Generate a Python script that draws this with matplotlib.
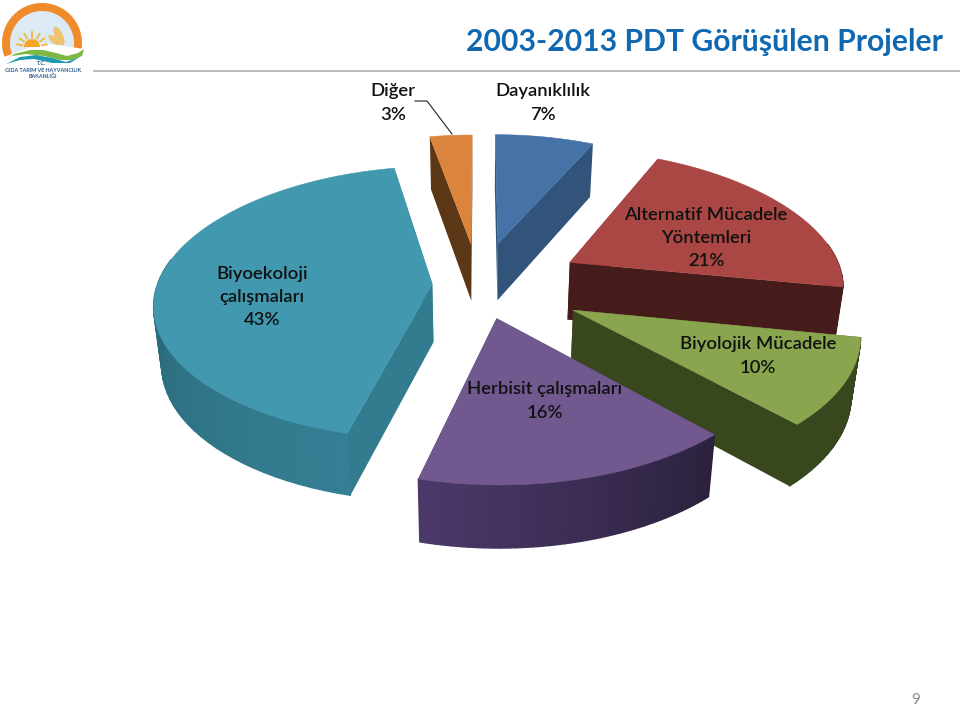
import numpy as np
import matplotlib
matplotlib.use("Agg")
import matplotlib.pyplot as plt
from matplotlib.patches import Wedge, Ellipse

plt.rcParams['font.family'] = ['Lato', 'DejaVu Sans']

# ---- data -------------------------------------------------------------
title = "2003-2013 PDT Görüşülen Projeler"
names = ["Dayanıklılık", "Alternatif Mücadele\nYöntemleri", "Biyolojik Mücadele",
         "Herbisit çalışmaları", "Biyoekoloji\nçalışmaları", "Diğer"]
values = [7, 21, 10, 16, 43, 3]
explode = [0.33, 0.38, 0.38, 0.25, 0.17, 0.32]
top_colors = ["#4572A7", "#AA4643", "#89A54E", "#71588F", "#4198AF", "#DB843D"]
wall_colors = ["#32537A", "#451C1A", "#39471F", "#3A2C52", "#337C90", "#5B3716"]
draw_order = [4, 5, 0, 1, 2, 3]
label_xy = [(543, 103), (706, 238), (758, 356), (545, 401), (262, 297), (393, 103)]

# ---- projection of the tilted pie onto the page -------------------------
CX, CY, RX, RY, DEPTH, SHRINK = 479, 285, 275, 134, 58, 0.975


def project(X, Y, bottom=False):
    wx = 1 + 0.146 * Y + 0.015 * Y ** 2
    wy = 1 + 0.135 * Y
    sx = CX + RX * X / wx
    sy = CY - RY * Y / wy
    if bottom:
        sx = CX + (sx - CX) * SHRINK
        sy = sy + DEPTH * (1.0 - 0.07 * Y)
    return sx, sy


def shade(hex_color, factor):
    rgb = np.array(matplotlib.colors.to_rgb(hex_color))
    return tuple(np.clip(rgb * factor, 0, 1))


fig = plt.figure(figsize=(9.6, 7.07), dpi=100)
ax = fig.add_axes([0, 0, 1, 1])
ax.set_xlim(0, 960)
ax.set_ylim(707, 0)
ax.axis("off")

fractions = np.array(values) / np.sum(values)
edges = np.concatenate([[0], np.cumsum(fractions)]) * 2 * np.pi

for order, i in enumerate(draw_order):
    z = 2 + order * 0.1
    a0, a1 = edges[i], edges[i + 1]
    mid = (a0 + a1) / 2
    ox, oy = explode[i] * np.sin(mid), explode[i] * np.cos(mid)
    angs = np.linspace(a0, a1, 60)
    Xs, Ys = ox + np.sin(angs), oy + np.cos(angs)
    tx, ty = project(Xs, Ys)
    bx, by = project(Xs, Ys, True)
    ax0, ay0 = project(ox, oy)
    bx0, by0 = project(ox, oy, True)
    # cut faces
    for j in (0, -1):
        ax.fill([ax0, tx[j], bx[j], bx0], [ay0, ty[j], by[j], by0],
                color=wall_colors[i], lw=0, zorder=z)
    # outer wall (front-facing part only), shaded strip by strip
    for k in range(len(angs) - 1):
        if np.cos(angs[k]) > 0.15:
            continue
        f = 1.0
        if i == 4:
            f = max(1.06 - 0.22 * (angs[k] - np.pi) / (0.5 * np.pi), 0.82)
        if i == 3:
            f = np.clip(1.3 - 0.55 * (np.pi + 0.25 - angs[k]), 0.7, 1.35)
        ax.fill([tx[k], tx[k + 1], bx[k + 1], bx[k]], [ty[k], ty[k + 1], by[k + 1], by[k]],
                color=shade(wall_colors[i], f), lw=1.0, zorder=z)
    ax.fill(np.r_[ax0, tx], np.r_[ay0, ty], color=top_colors[i], lw=0.4, zorder=z)

# ---- labels -------------------------------------------------------------
for i, (lx, ly) in enumerate(label_xy):
    ax.text(lx, ly, f"{names[i]}\n{values[i]}%", ha="center", va="center",
            fontsize=13.3, color="#111111", linespacing=1.55, zorder=5,
            fontweight="semibold")
ax.plot([415, 427, 452], [101, 101, 134], color="#222222", lw=0.8, zorder=5)

# ---- slide header -------------------------------------------------------
ax.text(943, 42, title, ha="right", va="center", fontsize=21.7, fontweight="bold",
        color="#1068B0")
ax.plot([94, 960], [71, 71], color="#B5B5B5", lw=1.3)
ax.text(916, 700, "9", ha="center", va="center", fontsize=11, color="#8A8A8A")

# logo
ax.add_patch(Wedge((42, 43), 33, 160, 368, fc="#DCEAF5", ec="none"))
ax.add_patch(Wedge((42, 43), 40, 160, 368, width=8, fc="#EF8B2A", ec="none"))
ax.add_patch(Wedge((32, 47), 8, 180, 360, fc="#F6A623", ec="none"))
for ang in np.deg2rad([190, 215, 240, 270, 300, 325, 350]):
    ax.plot([32 + 10 * np.cos(ang), 32 + 15 * np.cos(ang)],
            [47 + 10 * np.sin(ang), 47 + 15 * np.sin(ang)], color="#F4B942", lw=1.4)
ax.add_patch(Ellipse((59, 36), 8, 20, angle=-25, fc="#EFC36E", ec="none"))
ax.add_patch(Ellipse((54, 40), 6, 14, angle=-50, fc="#EFC36E", ec="none"))
xw = [3, 14, 30, 43, 56, 67, 78, 84, 82, 72, 60, 44, 26, 12, 3]
yw = [63, 54, 50, 50, 53, 56, 53, 49, 56, 60, 60, 56, 54, 56, 63]
ax.fill(xw, yw, color="#7DB642", lw=0)
xb = [6, 20, 36, 52, 66, 80, 70, 52, 34, 20, 6]
yb = [64, 57, 55, 58, 62, 57, 63, 63, 59, 60, 64]
ax.fill(xb, yb, color="#1E9AB0", lw=0)
ax.text(41, 63.5, "T.C.", ha="center", va="center", fontsize=3.9, fontweight="bold", color="#2B5C8A")
ax.text(43, 70, "GIDA TARIM VE HAYVANCILIK", ha="center", va="center", fontsize=3.9, fontweight="bold", color="#2B5C8A")
ax.text(43, 76, "BAKANLIĞI", ha="center", va="center", fontsize=3.9, fontweight="bold", color="#2B5C8A")

fig.savefig("out.png", dpi=100, facecolor="white")
